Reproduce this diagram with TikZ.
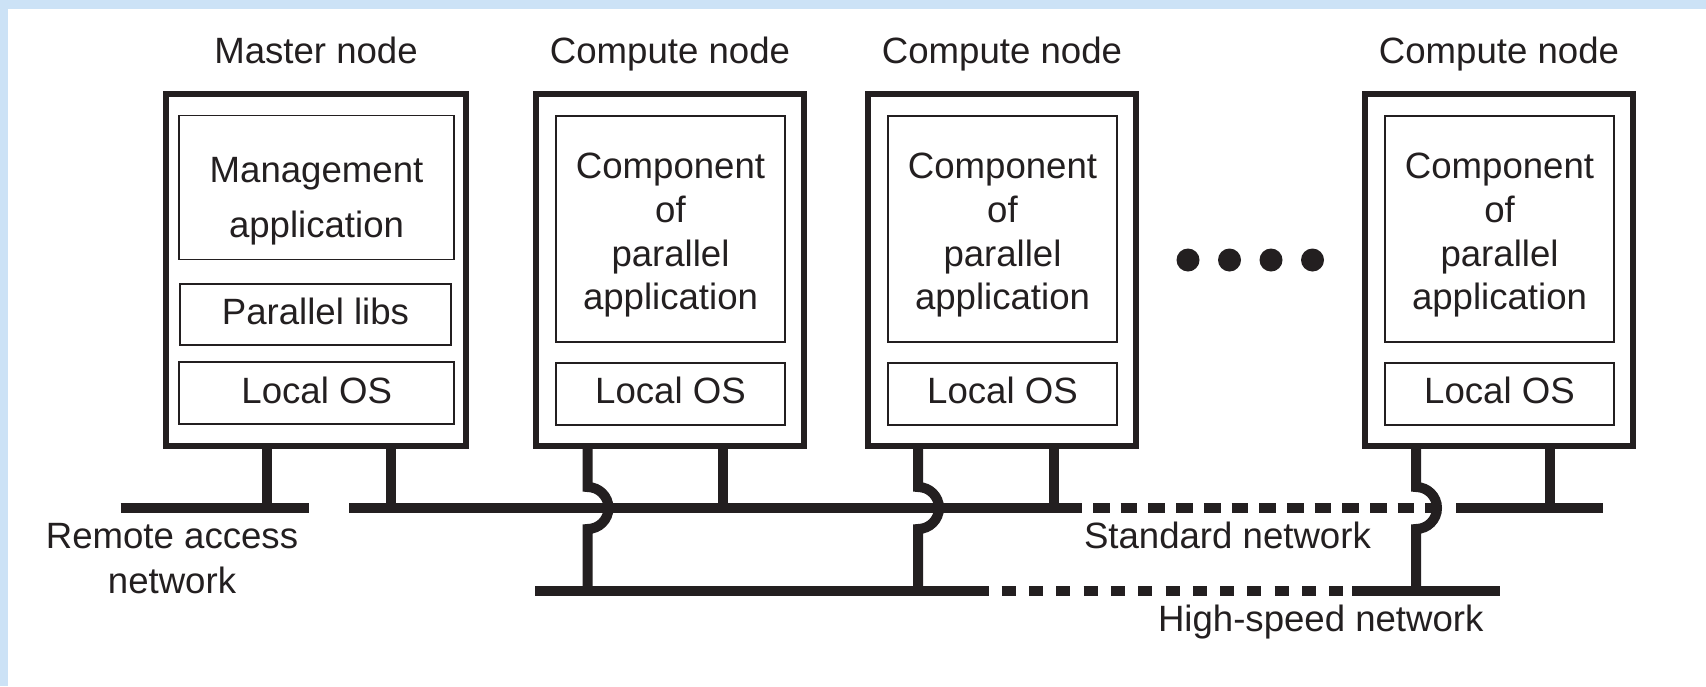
\documentclass[tikz,border=0pt]{standalone}
\usepackage{fontspec}
\setmainfont{Liberation Sans}
\definecolor{ink}{RGB}{35,31,32}
\definecolor{framebg}{RGB}{204,226,246}
\begin{document}
\begin{tikzpicture}[x=1pt,y=-1pt,
  every node/.style={text=ink, inner sep=0pt, outer sep=0pt},
  txt/.style={font=\fontsize{36.6}{43.8}\selectfont},
  lbl/.style={txt, anchor=base},
  outerbox/.style={draw=ink, line width=5.5pt, minimum width=268pt, minimum height=352pt},
  innerbox/.style={draw=ink, line width=1.8pt},
  net/.style={draw=ink, line width=10.5pt},
  leg/.style={draw=ink, line width=10pt},
  stddash/.style={net, dash pattern=on 16.7pt off 11pt},
  hsdash/.style={net, dash pattern=on 14pt off 13.3pt},
  dot/.style={circle, fill=ink, minimum size=23pt}
]
\fill[framebg] (0,0) rectangle (1706,686);
\fill[white] (8.3,9) rectangle (1706,686);
\useasboundingbox (0,0) rectangle (1706,686);

% ---------- titles ----------
\node[lbl] (tmaster) at (316,63) {Master node};
\node[lbl] (tc1) at (670,63) {Compute node};
\node[lbl] (tc2) at (1002,63) {Compute node};
\node[lbl] (tc3) at (1499,63) {Compute node};

% ---------- master node ----------
\node[outerbox, minimum width=300pt] (master) at (316,270) {};
\node[innerbox, minimum width=274.7pt, minimum height=144pt] (mgmt) at (316.7,187.5) {};
\node[txt, align=center, anchor=north, font=\fontsize{36.6}{55}\selectfont] (mgmttext) at (316.5,157) {Management\\application};
\node[innerbox, minimum width=271pt, minimum height=61pt] (plibs) at (315.5,314.5) {};
\node[lbl] (plibstext) at (315.5,324) {Parallel libs};
\node[innerbox, minimum width=274.7pt, minimum height=62pt] (mos) at (316.7,393) {};
\node[lbl] (mostext) at (316.7,403.3) {Local OS};

% ---------- compute nodes ----------
\foreach \n/\cx in {c1/670, c2/1002, c3/1499}{
  \node[outerbox] (\n) at (\cx,270) {};
  \node[innerbox, minimum width=229pt, minimum height=226pt] (\n app) at (\cx+0.5,229) {};
  \node[txt, align=center, anchor=north] (\n apptext) at (\cx+0.5,153) {Component\\of\\parallel\\application};
  \node[innerbox, minimum width=229pt, minimum height=62pt] (\n os) at (\cx+0.5,394) {};
  \node[lbl] (\n ostext) at (\cx+0.5,403.3) {Local OS};
}

% ---------- dots ----------
\node[dot] (d1) at (1188,260) {};
\node[dot] (d2) at (1229.5,260) {};
\node[dot] (d3) at (1271,260) {};
\node[dot] (d4) at (1312.5,260) {};

% ---------- network coordinates ----------
\coordinate (ra0) at (120.7,508);
\coordinate (ra1) at (309,508);
\coordinate (sn0) at (349.3,508);
\coordinate (sn1) at (1082,508);
\coordinate (sn2) at (1093,508);
\coordinate (sn3) at (1441,508);
\coordinate (sn4) at (1456,508);
\coordinate (sn5) at (1603,508);
\coordinate (hs0) at (535,591);
\coordinate (hs1) at (989,591);
\coordinate (hs2) at (1001.7,591);
\coordinate (hs3) at (1352,591);
\coordinate (hs4) at (1500,591);

% ---------- networks ----------
\draw[net] (ra0) -- (ra1);
\draw[net] (sn0) -- (sn1);
\draw[stddash] (sn2) -- (sn3);
\draw[net] (sn4) -- (sn5);
\draw[net] (hs0) -- (hs1);
\draw[hsdash] (hs2) -- (hs3);
\draw[net] (hs3) -- (hs4);

% ---------- leg attachment points ----------
\coordinate (mL) at (266.7,508);
\coordinate (mR) at (391,508);
\coordinate (c1h) at (587.5,591);
\coordinate (c1s) at (722.5,508);
\coordinate (c2h) at (918,591);
\coordinate (c2s) at (1053.5,508);
\coordinate (c3h) at (1416,591);
\coordinate (c3s) at (1550,508);

% ---------- legs ----------
\draw[leg] (mL |- master.south) -- (mL);
\draw[leg] (mR |- master.south) -- (mR);
\foreach \n in {c1,c2,c3}{
  \draw[leg] (\n s |- \n.south) -- (\n s);
  \draw[leg] (\n h |- \n.south) -- ++(0,41) arc[start angle=90, end angle=-90, radius=21pt] -- (\n h);
}

% ---------- network labels ----------
\node[txt, align=center, anchor=north, font=\fontsize{36.6}{45}\selectfont] (ralabel) at (172,523.5) {Remote access\\network};
\node[lbl, anchor=base west] (snlabel) at (1084,548.3) {Standard network};
\node[lbl, anchor=base west] (hslabel) at (1158,631.7) {High-speed network};
\end{tikzpicture}
\end{document}
